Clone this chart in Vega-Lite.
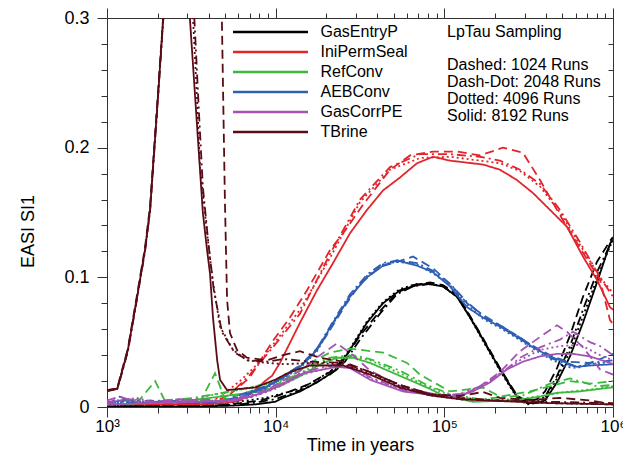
{
  "$schema": "https://vega.github.io/schema/vega-lite/v6.json",
  "width": 506,
  "height": 389,
  "autosize": {"type": "none"},
  "padding": {"left": 107, "top": 18, "right": 10, "bottom": 49},
  "config": {"font": "Liberation Sans", "view": {"stroke": null}},
  "data": {"values": [
    {"series":"GasEntryP","runs":"8192","t":1000,"v":0.0005},{"series":"GasEntryP","runs":"8192","t":3560,"v":0.0005},{"series":"GasEntryP","runs":"8192","t":5360,"v":0.001},{"series":"GasEntryP","runs":"8192","t":7540,"v":0.002},{"series":"GasEntryP","runs":"8192","t":9910,"v":0.004},{"series":"GasEntryP","runs":"8192","t":11050,"v":0.007},{"series":"GasEntryP","runs":"8192","t":13940,"v":0.012},{"series":"GasEntryP","runs":"8192","t":17580,"v":0.019},{"series":"GasEntryP","runs":"8192","t":23100,"v":0.029},{"series":"GasEntryP","runs":"8192","t":27580,"v":0.044},{"series":"GasEntryP","runs":"8192","t":34790,"v":0.065},{"series":"GasEntryP","runs":"8192","t":43290,"v":0.080},{"series":"GasEntryP","runs":"8192","t":54600,"v":0.090},{"series":"GasEntryP","runs":"8192","t":68860,"v":0.094},{"series":"GasEntryP","runs":"8192","t":78920,"v":0.095},{"series":"GasEntryP","runs":"8192","t":98200,"v":0.093},{"series":"GasEntryP","runs":"8192","t":118900,"v":0.085},{"series":"GasEntryP","runs":"8192","t":142000,"v":0.069},{"series":"GasEntryP","runs":"8192","t":169500,"v":0.052},{"series":"GasEntryP","runs":"8192","t":213800,"v":0.029},{"series":"GasEntryP","runs":"8192","t":269700,"v":0.008},{"series":"GasEntryP","runs":"8192","t":309200,"v":0.003},{"series":"GasEntryP","runs":"8192","t":354300,"v":0.003},{"series":"GasEntryP","runs":"8192","t":395300,"v":0.005},{"series":"GasEntryP","runs":"8192","t":465600,"v":0.019},{"series":"GasEntryP","runs":"8192","t":555900,"v":0.039},{"series":"GasEntryP","runs":"8192","t":663900,"v":0.065},{"series":"GasEntryP","runs":"8192","t":803800,"v":0.096},{"series":"GasEntryP","runs":"8192","t":959800,"v":0.126},{"series":"GasEntryP","runs":"8192","t":1000000,"v":0.130},
    {"series":"GasEntryP","runs":"1024","t":1000,"v":0.001},{"series":"GasEntryP","runs":"1024","t":4080,"v":0.001},{"series":"GasEntryP","runs":"1024","t":6140,"v":0.003},{"series":"GasEntryP","runs":"1024","t":8080,"v":0.005},{"series":"GasEntryP","runs":"1024","t":9910,"v":0.008},{"series":"GasEntryP","runs":"1024","t":12160,"v":0.012},{"series":"GasEntryP","runs":"1024","t":15340,"v":0.017},{"series":"GasEntryP","runs":"1024","t":21000,"v":0.027},{"series":"GasEntryP","runs":"1024","t":25770,"v":0.038},{"series":"GasEntryP","runs":"1024","t":31620,"v":0.055},{"series":"GasEntryP","runs":"1024","t":41550,"v":0.074},{"series":"GasEntryP","runs":"1024","t":52410,"v":0.088},{"series":"GasEntryP","runs":"1024","t":65200,"v":0.094},{"series":"GasEntryP","runs":"1024","t":82230,"v":0.096},{"series":"GasEntryP","runs":"1024","t":98200,"v":0.094},{"series":"GasEntryP","runs":"1024","t":118900,"v":0.087},{"series":"GasEntryP","runs":"1024","t":142000,"v":0.070},{"series":"GasEntryP","runs":"1024","t":169500,"v":0.053},{"series":"GasEntryP","runs":"1024","t":213800,"v":0.030},{"series":"GasEntryP","runs":"1024","t":269700,"v":0.009},{"series":"GasEntryP","runs":"1024","t":309200,"v":0.004},{"series":"GasEntryP","runs":"1024","t":354300,"v":0.006},{"series":"GasEntryP","runs":"1024","t":395300,"v":0.012},{"series":"GasEntryP","runs":"1024","t":465600,"v":0.030},{"series":"GasEntryP","runs":"1024","t":555900,"v":0.055},{"series":"GasEntryP","runs":"1024","t":663900,"v":0.085},{"series":"GasEntryP","runs":"1024","t":803800,"v":0.112},{"series":"GasEntryP","runs":"1024","t":959800,"v":0.128},{"series":"GasEntryP","runs":"1024","t":1000000,"v":0.131},
    {"series":"GasEntryP","runs":"4096","t":1000,"v":0.001},{"series":"GasEntryP","runs":"4096","t":3560,"v":0.001},{"series":"GasEntryP","runs":"4096","t":5000,"v":0.003},{"series":"GasEntryP","runs":"4096","t":6760,"v":0.005},{"series":"GasEntryP","runs":"4096","t":8650,"v":0.007},{"series":"GasEntryP","runs":"4096","t":9910,"v":0.009},{"series":"GasEntryP","runs":"4096","t":11360,"v":0.011},{"series":"GasEntryP","runs":"4096","t":13940,"v":0.014},{"series":"GasEntryP","runs":"4096","t":17580,"v":0.021},{"series":"GasEntryP","runs":"4096","t":23100,"v":0.031},{"series":"GasEntryP","runs":"4096","t":27580,"v":0.045},{"series":"GasEntryP","runs":"4096","t":34790,"v":0.066},{"series":"GasEntryP","runs":"4096","t":43290,"v":0.081},{"series":"GasEntryP","runs":"4096","t":54600,"v":0.091},{"series":"GasEntryP","runs":"4096","t":68860,"v":0.095},{"series":"GasEntryP","runs":"4096","t":82230,"v":0.095},{"series":"GasEntryP","runs":"4096","t":98200,"v":0.093},{"series":"GasEntryP","runs":"4096","t":118900,"v":0.085},{"series":"GasEntryP","runs":"4096","t":142000,"v":0.069},{"series":"GasEntryP","runs":"4096","t":169500,"v":0.051},{"series":"GasEntryP","runs":"4096","t":213800,"v":0.028},{"series":"GasEntryP","runs":"4096","t":269700,"v":0.007},{"series":"GasEntryP","runs":"4096","t":309200,"v":0.002},{"series":"GasEntryP","runs":"4096","t":354300,"v":0.003},{"series":"GasEntryP","runs":"4096","t":395300,"v":0.007},{"series":"GasEntryP","runs":"4096","t":465600,"v":0.022},{"series":"GasEntryP","runs":"4096","t":555900,"v":0.043},{"series":"GasEntryP","runs":"4096","t":663900,"v":0.070},{"series":"GasEntryP","runs":"4096","t":803800,"v":0.099},{"series":"GasEntryP","runs":"4096","t":959800,"v":0.124},{"series":"GasEntryP","runs":"4096","t":1000000,"v":0.128},
    {"series":"GasEntryP","runs":"2048","t":1000,"v":0.001},{"series":"GasEntryP","runs":"2048","t":4080,"v":0.001},{"series":"GasEntryP","runs":"2048","t":6140,"v":0.002},{"series":"GasEntryP","runs":"2048","t":8080,"v":0.004},{"series":"GasEntryP","runs":"2048","t":9910,"v":0.006},{"series":"GasEntryP","runs":"2048","t":12160,"v":0.010},{"series":"GasEntryP","runs":"2048","t":15340,"v":0.015},{"series":"GasEntryP","runs":"2048","t":21000,"v":0.025},{"series":"GasEntryP","runs":"2048","t":25770,"v":0.035},{"series":"GasEntryP","runs":"2048","t":31620,"v":0.052},{"series":"GasEntryP","runs":"2048","t":41550,"v":0.072},{"series":"GasEntryP","runs":"2048","t":52410,"v":0.087},{"series":"GasEntryP","runs":"2048","t":65200,"v":0.093},{"series":"GasEntryP","runs":"2048","t":82230,"v":0.095},{"series":"GasEntryP","runs":"2048","t":98200,"v":0.093},{"series":"GasEntryP","runs":"2048","t":118900,"v":0.086},{"series":"GasEntryP","runs":"2048","t":142000,"v":0.070},{"series":"GasEntryP","runs":"2048","t":169500,"v":0.052},{"series":"GasEntryP","runs":"2048","t":213800,"v":0.029},{"series":"GasEntryP","runs":"2048","t":269700,"v":0.008},{"series":"GasEntryP","runs":"2048","t":309200,"v":0.003},{"series":"GasEntryP","runs":"2048","t":354300,"v":0.004},{"series":"GasEntryP","runs":"2048","t":395300,"v":0.008},{"series":"GasEntryP","runs":"2048","t":465600,"v":0.024},{"series":"GasEntryP","runs":"2048","t":555900,"v":0.047},{"series":"GasEntryP","runs":"2048","t":663900,"v":0.075},{"series":"GasEntryP","runs":"2048","t":803800,"v":0.104},{"series":"GasEntryP","runs":"2048","t":959800,"v":0.125},{"series":"GasEntryP","runs":"2048","t":1000000,"v":0.129},

    {"series":"IniPermSeal","runs":"8192","t":1000,"v":0.002},{"series":"IniPermSeal","runs":"8192","t":3560,"v":0.002},{"series":"IniPermSeal","runs":"8192","t":5000,"v":0.003},{"series":"IniPermSeal","runs":"8192","t":6140,"v":0.005},{"series":"IniPermSeal","runs":"8192","t":7040,"v":0.010},{"series":"IniPermSeal","runs":"8192","t":7540,"v":0.013},{"series":"IniPermSeal","runs":"8192","t":8650,"v":0.020},{"series":"IniPermSeal","runs":"8192","t":9510,"v":0.024},{"series":"IniPermSeal","runs":"8192","t":10600,"v":0.034},{"series":"IniPermSeal","runs":"8192","t":13940,"v":0.065},{"series":"IniPermSeal","runs":"8192","t":17580,"v":0.090},{"series":"IniPermSeal","runs":"8192","t":21880,"v":0.111},{"series":"IniPermSeal","runs":"8192","t":27580,"v":0.134},{"series":"IniPermSeal","runs":"8192","t":34790,"v":0.152},{"series":"IniPermSeal","runs":"8192","t":43290,"v":0.167},{"series":"IniPermSeal","runs":"8192","t":54600,"v":0.177},{"series":"IniPermSeal","runs":"8192","t":68860,"v":0.188},{"series":"IniPermSeal","runs":"8192","t":85670,"v":0.193},{"series":"IniPermSeal","runs":"8192","t":108000,"v":0.190},{"series":"IniPermSeal","runs":"8192","t":169500,"v":0.187},{"series":"IniPermSeal","runs":"8192","t":213800,"v":0.183},{"series":"IniPermSeal","runs":"8192","t":269700,"v":0.175},{"series":"IniPermSeal","runs":"8192","t":335600,"v":0.165},{"series":"IniPermSeal","runs":"8192","t":423200,"v":0.152},{"series":"IniPermSeal","runs":"8192","t":533600,"v":0.139},{"series":"IniPermSeal","runs":"8192","t":663900,"v":0.116},{"series":"IniPermSeal","runs":"8192","t":803800,"v":0.098},{"series":"IniPermSeal","runs":"8192","t":959800,"v":0.077},{"series":"IniPermSeal","runs":"8192","t":1000000,"v":0.075},
    {"series":"IniPermSeal","runs":"1024","t":1000,"v":0.002},{"series":"IniPermSeal","runs":"1024","t":4680,"v":0.003},{"series":"IniPermSeal","runs":"1024","t":5740,"v":0.013},{"series":"IniPermSeal","runs":"1024","t":7040,"v":0.023},{"series":"IniPermSeal","runs":"1024","t":9510,"v":0.050},{"series":"IniPermSeal","runs":"1024","t":12160,"v":0.069},{"series":"IniPermSeal","runs":"1024","t":15340,"v":0.090},{"series":"IniPermSeal","runs":"1024","t":21000,"v":0.121},{"series":"IniPermSeal","runs":"1024","t":25770,"v":0.136},{"series":"IniPermSeal","runs":"1024","t":32950,"v":0.156},{"series":"IniPermSeal","runs":"1024","t":47620,"v":0.183},{"series":"IniPermSeal","runs":"1024","t":62580,"v":0.194},{"series":"IniPermSeal","runs":"1024","t":85670,"v":0.197},{"series":"IniPermSeal","runs":"1024","t":118900,"v":0.197},{"series":"IniPermSeal","runs":"1024","t":162700,"v":0.194},{"series":"IniPermSeal","runs":"1024","t":222700,"v":0.200},{"series":"IniPermSeal","runs":"1024","t":292700,"v":0.196},{"series":"IniPermSeal","runs":"1024","t":369200,"v":0.175},{"series":"IniPermSeal","runs":"1024","t":505200,"v":0.144},{"series":"IniPermSeal","runs":"1024","t":663900,"v":0.119},{"series":"IniPermSeal","runs":"1024","t":837400,"v":0.098},{"series":"IniPermSeal","runs":"1024","t":959800,"v":0.067},{"series":"IniPermSeal","runs":"1024","t":1000000,"v":0.064},
    {"series":"IniPermSeal","runs":"4096","t":1000,"v":0.002},{"series":"IniPermSeal","runs":"4096","t":3810,"v":0.002},{"series":"IniPermSeal","runs":"4096","t":4680,"v":0.008},{"series":"IniPermSeal","runs":"4096","t":6140,"v":0.020},{"series":"IniPermSeal","runs":"4096","t":8080,"v":0.035},{"series":"IniPermSeal","runs":"4096","t":11360,"v":0.060},{"series":"IniPermSeal","runs":"4096","t":13940,"v":0.075},{"series":"IniPermSeal","runs":"4096","t":21000,"v":0.115},{"series":"IniPermSeal","runs":"4096","t":31620,"v":0.158},{"series":"IniPermSeal","runs":"4096","t":47620,"v":0.183},{"series":"IniPermSeal","runs":"4096","t":71740,"v":0.192},{"series":"IniPermSeal","runs":"4096","t":108000,"v":0.193},{"series":"IniPermSeal","runs":"4096","t":162700,"v":0.190},{"series":"IniPermSeal","runs":"4096","t":213800,"v":0.188},{"series":"IniPermSeal","runs":"4096","t":281000,"v":0.182},{"series":"IniPermSeal","runs":"4096","t":369200,"v":0.170},{"series":"IniPermSeal","runs":"4096","t":485000,"v":0.150},{"series":"IniPermSeal","runs":"4096","t":637300,"v":0.125},{"series":"IniPermSeal","runs":"4096","t":837400,"v":0.100},{"series":"IniPermSeal","runs":"4096","t":1000000,"v":0.088},
    {"series":"IniPermSeal","runs":"2048","t":1000,"v":0.002},{"series":"IniPermSeal","runs":"2048","t":4080,"v":0.002},{"series":"IniPermSeal","runs":"2048","t":5360,"v":0.010},{"series":"IniPermSeal","runs":"2048","t":7040,"v":0.025},{"series":"IniPermSeal","runs":"2048","t":9910,"v":0.048},{"series":"IniPermSeal","runs":"2048","t":13940,"v":0.072},{"series":"IniPermSeal","runs":"2048","t":21000,"v":0.118},{"series":"IniPermSeal","runs":"2048","t":31620,"v":0.160},{"series":"IniPermSeal","runs":"2048","t":47620,"v":0.185},{"series":"IniPermSeal","runs":"2048","t":71740,"v":0.195},{"series":"IniPermSeal","runs":"2048","t":108000,"v":0.195},{"series":"IniPermSeal","runs":"2048","t":162700,"v":0.193},{"series":"IniPermSeal","runs":"2048","t":213800,"v":0.190},{"series":"IniPermSeal","runs":"2048","t":281000,"v":0.183},{"series":"IniPermSeal","runs":"2048","t":369200,"v":0.172},{"series":"IniPermSeal","runs":"2048","t":485000,"v":0.152},{"series":"IniPermSeal","runs":"2048","t":637300,"v":0.127},{"series":"IniPermSeal","runs":"2048","t":837400,"v":0.100},{"series":"IniPermSeal","runs":"2048","t":1000000,"v":0.085},

    {"series":"RefConv","runs":"8192","t":1000,"v":0.002},{"series":"RefConv","runs":"8192","t":1800,"v":0.003},{"series":"RefConv","runs":"8192","t":2700,"v":0.004},{"series":"RefConv","runs":"8192","t":3560,"v":0.006},{"series":"RefConv","runs":"8192","t":4680,"v":0.008},{"series":"RefConv","runs":"8192","t":6140,"v":0.010},{"series":"RefConv","runs":"8192","t":8080,"v":0.012},{"series":"RefConv","runs":"8192","t":10600,"v":0.016},{"series":"RefConv","runs":"8192","t":14520,"v":0.025},{"series":"RefConv","runs":"8192","t":18320,"v":0.033},{"series":"RefConv","runs":"8192","t":23100,"v":0.038},{"series":"RefConv","runs":"8192","t":28740,"v":0.038},{"series":"RefConv","runs":"8192","t":36260,"v":0.034},{"series":"RefConv","runs":"8192","t":56880,"v":0.023},{"series":"RefConv","runs":"8192","t":78920,"v":0.015},{"series":"RefConv","runs":"8192","t":98200,"v":0.009},{"series":"RefConv","runs":"8192","t":147900,"v":0.004},{"series":"RefConv","runs":"8192","t":235200,"v":0.005},{"series":"RefConv","runs":"8192","t":292700,"v":0.006},{"series":"RefConv","runs":"8192","t":369200,"v":0.008},{"series":"RefConv","runs":"8192","t":465600,"v":0.011},{"series":"RefConv","runs":"8192","t":637300,"v":0.012},{"series":"RefConv","runs":"8192","t":959800,"v":0.015},{"series":"RefConv","runs":"8192","t":1000000,"v":0.015},
    {"series":"RefConv","runs":"1024","t":1000,"v":0.003},{"series":"RefConv","runs":"1024","t":1570,"v":0.006},{"series":"RefConv","runs":"1024","t":1930,"v":0.020},{"series":"RefConv","runs":"1024","t":2200,"v":0.005},{"series":"RefConv","runs":"1024","t":3560,"v":0.004},{"series":"RefConv","runs":"1024","t":4370,"v":0.026},{"series":"RefConv","runs":"1024","t":5000,"v":0.006},{"series":"RefConv","runs":"1024","t":7040,"v":0.012},{"series":"RefConv","runs":"1024","t":9260,"v":0.015},{"series":"RefConv","runs":"1024","t":12160,"v":0.022},{"series":"RefConv","runs":"1024","t":15980,"v":0.034},{"series":"RefConv","runs":"1024","t":21000,"v":0.042},{"series":"RefConv","runs":"1024","t":27580,"v":0.045},{"series":"RefConv","runs":"1024","t":43290,"v":0.042},{"series":"RefConv","runs":"1024","t":60060,"v":0.034},{"series":"RefConv","runs":"1024","t":71740,"v":0.025},{"series":"RefConv","runs":"1024","t":108000,"v":0.012},{"series":"RefConv","runs":"1024","t":169500,"v":0.015},{"series":"RefConv","runs":"1024","t":213800,"v":0.008},{"series":"RefConv","runs":"1024","t":322100,"v":0.012},{"series":"RefConv","runs":"1024","t":423200,"v":0.016},{"series":"RefConv","runs":"1024","t":555900,"v":0.020},{"series":"RefConv","runs":"1024","t":730500,"v":0.018},{"series":"RefConv","runs":"1024","t":1000000,"v":0.020},
    {"series":"RefConv","runs":"4096","t":1000,"v":0.002},{"series":"RefConv","runs":"4096","t":2000,"v":0.004},{"series":"RefConv","runs":"4096","t":3100,"v":0.005},{"series":"RefConv","runs":"4096","t":4080,"v":0.009},{"series":"RefConv","runs":"4096","t":5510,"v":0.012},{"series":"RefConv","runs":"4096","t":7040,"v":0.015},{"series":"RefConv","runs":"4096","t":9260,"v":0.018},{"series":"RefConv","runs":"4096","t":12160,"v":0.022},{"series":"RefConv","runs":"4096","t":15980,"v":0.030},{"series":"RefConv","runs":"4096","t":21000,"v":0.036},{"series":"RefConv","runs":"4096","t":28740,"v":0.039},{"series":"RefConv","runs":"4096","t":36260,"v":0.036},{"series":"RefConv","runs":"4096","t":54600,"v":0.026},{"series":"RefConv","runs":"4096","t":78920,"v":0.016},{"series":"RefConv","runs":"4096","t":108000,"v":0.009},{"series":"RefConv","runs":"4096","t":162700,"v":0.005},{"series":"RefConv","runs":"4096","t":269700,"v":0.006},{"series":"RefConv","runs":"4096","t":395300,"v":0.009},{"series":"RefConv","runs":"4096","t":555900,"v":0.012},{"series":"RefConv","runs":"4096","t":803800,"v":0.014},{"series":"RefConv","runs":"4096","t":1000000,"v":0.016},
    {"series":"RefConv","runs":"2048","t":1000,"v":0.003},{"series":"RefConv","runs":"2048","t":2150,"v":0.005},{"series":"RefConv","runs":"2048","t":3240,"v":0.007},{"series":"RefConv","runs":"2048","t":4370,"v":0.010},{"series":"RefConv","runs":"2048","t":5900,"v":0.013},{"series":"RefConv","runs":"2048","t":7540,"v":0.016},{"series":"RefConv","runs":"2048","t":9910,"v":0.020},{"series":"RefConv","runs":"2048","t":12160,"v":0.024},{"series":"RefConv","runs":"2048","t":15980,"v":0.032},{"series":"RefConv","runs":"2048","t":21000,"v":0.038},{"series":"RefConv","runs":"2048","t":28740,"v":0.040},{"series":"RefConv","runs":"2048","t":36260,"v":0.037},{"series":"RefConv","runs":"2048","t":54600,"v":0.028},{"series":"RefConv","runs":"2048","t":78920,"v":0.017},{"series":"RefConv","runs":"2048","t":108000,"v":0.010},{"series":"RefConv","runs":"2048","t":162700,"v":0.006},{"series":"RefConv","runs":"2048","t":292700,"v":0.009},{"series":"RefConv","runs":"2048","t":423200,"v":0.018},{"series":"RefConv","runs":"2048","t":555900,"v":0.022},{"series":"RefConv","runs":"2048","t":803800,"v":0.016},{"series":"RefConv","runs":"2048","t":1000000,"v":0.017},

    {"series":"AEBConv","runs":"8192","t":1000,"v":0.003},{"series":"AEBConv","runs":"8192","t":1330,"v":0.006},{"series":"AEBConv","runs":"8192","t":1570,"v":0.003},{"series":"AEBConv","runs":"8192","t":2000,"v":0.004},{"series":"AEBConv","runs":"8192","t":3100,"v":0.003},{"series":"AEBConv","runs":"8192","t":4370,"v":0.004},{"series":"AEBConv","runs":"8192","t":5900,"v":0.006},{"series":"AEBConv","runs":"8192","t":7040,"v":0.011},{"series":"AEBConv","runs":"8192","t":8650,"v":0.015},{"series":"AEBConv","runs":"8192","t":11050,"v":0.023},{"series":"AEBConv","runs":"8192","t":13940,"v":0.031},{"series":"AEBConv","runs":"8192","t":17580,"v":0.044},{"series":"AEBConv","runs":"8192","t":21880,"v":0.065},{"series":"AEBConv","runs":"8192","t":27580,"v":0.085},{"series":"AEBConv","runs":"8192","t":34790,"v":0.100},{"series":"AEBConv","runs":"8192","t":43290,"v":0.109},{"series":"AEBConv","runs":"8192","t":52410,"v":0.113},{"series":"AEBConv","runs":"8192","t":68860,"v":0.109},{"series":"AEBConv","runs":"8192","t":85670,"v":0.104},{"series":"AEBConv","runs":"8192","t":108000,"v":0.093},{"series":"AEBConv","runs":"8192","t":136300,"v":0.077},{"series":"AEBConv","runs":"8192","t":169500,"v":0.069},{"series":"AEBConv","runs":"8192","t":213800,"v":0.062},{"series":"AEBConv","runs":"8192","t":269700,"v":0.054},{"series":"AEBConv","runs":"8192","t":335600,"v":0.046},{"series":"AEBConv","runs":"8192","t":423200,"v":0.039},{"series":"AEBConv","runs":"8192","t":533600,"v":0.034},{"series":"AEBConv","runs":"8192","t":611600,"v":0.031},{"series":"AEBConv","runs":"8192","t":730500,"v":0.032},{"series":"AEBConv","runs":"8192","t":1000000,"v":0.033},
    {"series":"AEBConv","runs":"1024","t":1000,"v":0.002},{"series":"AEBConv","runs":"1024","t":1190,"v":0.008},{"series":"AEBConv","runs":"1024","t":1500,"v":0.003},{"series":"AEBConv","runs":"1024","t":2360,"v":0.005},{"series":"AEBConv","runs":"1024","t":3420,"v":0.003},{"series":"AEBConv","runs":"1024","t":4800,"v":0.005},{"series":"AEBConv","runs":"1024","t":6310,"v":0.008},{"series":"AEBConv","runs":"1024","t":7540,"v":0.012},{"series":"AEBConv","runs":"1024","t":9910,"v":0.019},{"series":"AEBConv","runs":"1024","t":12160,"v":0.026},{"series":"AEBConv","runs":"1024","t":15980,"v":0.038},{"series":"AEBConv","runs":"1024","t":20000,"v":0.055},{"series":"AEBConv","runs":"1024","t":25770,"v":0.078},{"series":"AEBConv","runs":"1024","t":31620,"v":0.095},{"series":"AEBConv","runs":"1024","t":41550,"v":0.108},{"series":"AEBConv","runs":"1024","t":52410,"v":0.112},{"series":"AEBConv","runs":"1024","t":65200,"v":0.116},{"series":"AEBConv","runs":"1024","t":85670,"v":0.107},{"series":"AEBConv","runs":"1024","t":108000,"v":0.095},{"series":"AEBConv","runs":"1024","t":136300,"v":0.080},{"series":"AEBConv","runs":"1024","t":169500,"v":0.071},{"series":"AEBConv","runs":"1024","t":213800,"v":0.063},{"series":"AEBConv","runs":"1024","t":269700,"v":0.055},{"series":"AEBConv","runs":"1024","t":335600,"v":0.047},{"series":"AEBConv","runs":"1024","t":423200,"v":0.040},{"series":"AEBConv","runs":"1024","t":533600,"v":0.035},{"series":"AEBConv","runs":"1024","t":730500,"v":0.034},{"series":"AEBConv","runs":"1024","t":959800,"v":0.040},{"series":"AEBConv","runs":"1024","t":1000000,"v":0.041},
    {"series":"AEBConv","runs":"4096","t":1000,"v":0.003},{"series":"AEBConv","runs":"4096","t":1500,"v":0.005},{"series":"AEBConv","runs":"4096","t":2000,"v":0.003},{"series":"AEBConv","runs":"4096","t":2860,"v":0.006},{"series":"AEBConv","runs":"4096","t":3920,"v":0.003},{"series":"AEBConv","runs":"4096","t":5220,"v":0.005},{"series":"AEBConv","runs":"4096","t":7040,"v":0.010},{"series":"AEBConv","runs":"4096","t":8650,"v":0.014},{"series":"AEBConv","runs":"4096","t":11050,"v":0.022},{"series":"AEBConv","runs":"4096","t":13940,"v":0.030},{"series":"AEBConv","runs":"4096","t":17580,"v":0.043},{"series":"AEBConv","runs":"4096","t":21880,"v":0.064},{"series":"AEBConv","runs":"4096","t":27580,"v":0.086},{"series":"AEBConv","runs":"4096","t":34790,"v":0.101},{"series":"AEBConv","runs":"4096","t":43290,"v":0.110},{"series":"AEBConv","runs":"4096","t":52410,"v":0.112},{"series":"AEBConv","runs":"4096","t":68860,"v":0.110},{"series":"AEBConv","runs":"4096","t":85670,"v":0.103},{"series":"AEBConv","runs":"4096","t":108000,"v":0.094},{"series":"AEBConv","runs":"4096","t":136300,"v":0.079},{"series":"AEBConv","runs":"4096","t":169500,"v":0.068},{"series":"AEBConv","runs":"4096","t":213800,"v":0.061},{"series":"AEBConv","runs":"4096","t":269700,"v":0.053},{"series":"AEBConv","runs":"4096","t":335600,"v":0.045},{"series":"AEBConv","runs":"4096","t":423200,"v":0.037},{"series":"AEBConv","runs":"4096","t":533600,"v":0.031},{"series":"AEBConv","runs":"4096","t":611600,"v":0.030},{"series":"AEBConv","runs":"4096","t":730500,"v":0.033},{"series":"AEBConv","runs":"4096","t":1000000,"v":0.035},
    {"series":"AEBConv","runs":"2048","t":1000,"v":0.004},{"series":"AEBConv","runs":"2048","t":1330,"v":0.003},{"series":"AEBConv","runs":"2048","t":1800,"v":0.005},{"series":"AEBConv","runs":"2048","t":2600,"v":0.003},{"series":"AEBConv","runs":"2048","t":3560,"v":0.004},{"series":"AEBConv","runs":"2048","t":5000,"v":0.005},{"series":"AEBConv","runs":"2048","t":7040,"v":0.012},{"series":"AEBConv","runs":"2048","t":8650,"v":0.016},{"series":"AEBConv","runs":"2048","t":11050,"v":0.024},{"series":"AEBConv","runs":"2048","t":13940,"v":0.032},{"series":"AEBConv","runs":"2048","t":17580,"v":0.045},{"series":"AEBConv","runs":"2048","t":21880,"v":0.066},{"series":"AEBConv","runs":"2048","t":27580,"v":0.087},{"series":"AEBConv","runs":"2048","t":34790,"v":0.102},{"series":"AEBConv","runs":"2048","t":43290,"v":0.111},{"series":"AEBConv","runs":"2048","t":52410,"v":0.113},{"series":"AEBConv","runs":"2048","t":68860,"v":0.111},{"series":"AEBConv","runs":"2048","t":85670,"v":0.105},{"series":"AEBConv","runs":"2048","t":108000,"v":0.095},{"series":"AEBConv","runs":"2048","t":136300,"v":0.081},{"series":"AEBConv","runs":"2048","t":169500,"v":0.070},{"series":"AEBConv","runs":"2048","t":213800,"v":0.063},{"series":"AEBConv","runs":"2048","t":269700,"v":0.055},{"series":"AEBConv","runs":"2048","t":335600,"v":0.047},{"series":"AEBConv","runs":"2048","t":423200,"v":0.038},{"series":"AEBConv","runs":"2048","t":533600,"v":0.033},{"series":"AEBConv","runs":"2048","t":611600,"v":0.031},{"series":"AEBConv","runs":"2048","t":730500,"v":0.034},{"series":"AEBConv","runs":"2048","t":1000000,"v":0.036},

    {"series":"GasCorrPE","runs":"8192","t":1000,"v":0.002},{"series":"GasCorrPE","runs":"8192","t":1800,"v":0.003},{"series":"GasCorrPE","runs":"8192","t":3560,"v":0.004},{"series":"GasCorrPE","runs":"8192","t":5360,"v":0.005},{"series":"GasCorrPE","runs":"8192","t":7040,"v":0.008},{"series":"GasCorrPE","runs":"8192","t":9260,"v":0.013},{"series":"GasCorrPE","runs":"8192","t":14520,"v":0.026},{"series":"GasCorrPE","runs":"8192","t":23100,"v":0.031},{"series":"GasCorrPE","runs":"8192","t":27580,"v":0.030},{"series":"GasCorrPE","runs":"8192","t":36260,"v":0.021},{"series":"GasCorrPE","runs":"8192","t":56880,"v":0.012},{"series":"GasCorrPE","runs":"8192","t":94250,"v":0.0085},{"series":"GasCorrPE","runs":"8192","t":118900,"v":0.008},{"series":"GasCorrPE","runs":"8192","t":147900,"v":0.012},{"series":"GasCorrPE","runs":"8192","t":186500,"v":0.019},{"series":"GasCorrPE","runs":"8192","t":235200,"v":0.029},{"series":"GasCorrPE","runs":"8192","t":292700,"v":0.035},{"series":"GasCorrPE","runs":"8192","t":369200,"v":0.039},{"series":"GasCorrPE","runs":"8192","t":465600,"v":0.041},{"series":"GasCorrPE","runs":"8192","t":579200,"v":0.041},{"series":"GasCorrPE","runs":"8192","t":730500,"v":0.039},{"series":"GasCorrPE","runs":"8192","t":959800,"v":0.034},{"series":"GasCorrPE","runs":"8192","t":1000000,"v":0.033},
    {"series":"GasCorrPE","runs":"1024","t":1000,"v":0.005},{"series":"GasCorrPE","runs":"1024","t":1190,"v":0.008},{"series":"GasCorrPE","runs":"1024","t":1570,"v":0.003},{"series":"GasCorrPE","runs":"1024","t":2710,"v":0.006},{"series":"GasCorrPE","runs":"1024","t":5360,"v":0.004},{"series":"GasCorrPE","runs":"1024","t":8080,"v":0.010},{"series":"GasCorrPE","runs":"1024","t":13940,"v":0.028},{"series":"GasCorrPE","runs":"1024","t":18320,"v":0.040},{"series":"GasCorrPE","runs":"1024","t":23100,"v":0.049},{"series":"GasCorrPE","runs":"1024","t":28740,"v":0.040},{"series":"GasCorrPE","runs":"1024","t":36260,"v":0.028},{"series":"GasCorrPE","runs":"1024","t":56880,"v":0.015},{"series":"GasCorrPE","runs":"1024","t":94250,"v":0.009},{"series":"GasCorrPE","runs":"1024","t":132600,"v":0.010},{"series":"GasCorrPE","runs":"1024","t":162700,"v":0.016},{"series":"GasCorrPE","runs":"1024","t":213800,"v":0.027},{"series":"GasCorrPE","runs":"1024","t":281000,"v":0.043},{"series":"GasCorrPE","runs":"1024","t":369200,"v":0.054},{"series":"GasCorrPE","runs":"1024","t":465600,"v":0.063},{"series":"GasCorrPE","runs":"1024","t":533600,"v":0.058},{"series":"GasCorrPE","runs":"1024","t":663900,"v":0.046},{"series":"GasCorrPE","runs":"1024","t":837400,"v":0.029},{"series":"GasCorrPE","runs":"1024","t":1000000,"v":0.025},
    {"series":"GasCorrPE","runs":"4096","t":1000,"v":0.004},{"series":"GasCorrPE","runs":"4096","t":1500,"v":0.007},{"series":"GasCorrPE","runs":"4096","t":2000,"v":0.003},{"series":"GasCorrPE","runs":"4096","t":3100,"v":0.005},{"series":"GasCorrPE","runs":"4096","t":5000,"v":0.004},{"series":"GasCorrPE","runs":"4096","t":7040,"v":0.007},{"series":"GasCorrPE","runs":"4096","t":9910,"v":0.014},{"series":"GasCorrPE","runs":"4096","t":14520,"v":0.025},{"series":"GasCorrPE","runs":"4096","t":23100,"v":0.032},{"series":"GasCorrPE","runs":"4096","t":28740,"v":0.030},{"series":"GasCorrPE","runs":"4096","t":36260,"v":0.022},{"series":"GasCorrPE","runs":"4096","t":56880,"v":0.013},{"series":"GasCorrPE","runs":"4096","t":94250,"v":0.009},{"series":"GasCorrPE","runs":"4096","t":123900,"v":0.009},{"series":"GasCorrPE","runs":"4096","t":162700,"v":0.015},{"series":"GasCorrPE","runs":"4096","t":213800,"v":0.026},{"series":"GasCorrPE","runs":"4096","t":281000,"v":0.036},{"series":"GasCorrPE","runs":"4096","t":369200,"v":0.044},{"series":"GasCorrPE","runs":"4096","t":485000,"v":0.047},{"series":"GasCorrPE","runs":"4096","t":637300,"v":0.048},{"series":"GasCorrPE","runs":"4096","t":837400,"v":0.040},{"series":"GasCorrPE","runs":"4096","t":1000000,"v":0.036},
    {"series":"GasCorrPE","runs":"2048","t":1000,"v":0.003},{"series":"GasCorrPE","runs":"2048","t":1330,"v":0.006},{"series":"GasCorrPE","runs":"2048","t":1930,"v":0.004},{"series":"GasCorrPE","runs":"2048","t":3420,"v":0.006},{"series":"GasCorrPE","runs":"2048","t":5000,"v":0.005},{"series":"GasCorrPE","runs":"2048","t":7040,"v":0.009},{"series":"GasCorrPE","runs":"2048","t":9910,"v":0.015},{"series":"GasCorrPE","runs":"2048","t":14520,"v":0.027},{"series":"GasCorrPE","runs":"2048","t":23100,"v":0.033},{"series":"GasCorrPE","runs":"2048","t":28740,"v":0.031},{"series":"GasCorrPE","runs":"2048","t":36260,"v":0.023},{"series":"GasCorrPE","runs":"2048","t":56880,"v":0.013},{"series":"GasCorrPE","runs":"2048","t":94250,"v":0.009},{"series":"GasCorrPE","runs":"2048","t":123900,"v":0.010},{"series":"GasCorrPE","runs":"2048","t":162700,"v":0.016},{"series":"GasCorrPE","runs":"2048","t":213800,"v":0.025},{"series":"GasCorrPE","runs":"2048","t":281000,"v":0.038},{"series":"GasCorrPE","runs":"2048","t":369200,"v":0.046},{"series":"GasCorrPE","runs":"2048","t":485000,"v":0.052},{"series":"GasCorrPE","runs":"2048","t":579200,"v":0.058},{"series":"GasCorrPE","runs":"2048","t":730500,"v":0.050},{"series":"GasCorrPE","runs":"2048","t":837400,"v":0.047},{"series":"GasCorrPE","runs":"2048","t":1000000,"v":0.040},

    {"series":"TBrine","runs":"8192","t":1000,"v":0.013},{"series":"TBrine","runs":"8192","t":1150,"v":0.014},{"series":"TBrine","runs":"8192","t":1190,"v":0.021},{"series":"TBrine","runs":"8192","t":1330,"v":0.044},{"series":"TBrine","runs":"8192","t":1500,"v":0.083},{"series":"TBrine","runs":"8192","t":1680,"v":0.121},{"series":"TBrine","runs":"8192","t":1800,"v":0.152},{"series":"TBrine","runs":"8192","t":2000,"v":0.237},{"series":"TBrine","runs":"8192","t":2150,"v":0.298},{"series":"TBrine","runs":"8192","t":2360,"v":0.36},{"series":"TBrine","runs":"8192","t":2600,"v":0.40},{"series":"TBrine","runs":"8192","t":2860,"v":0.36},{"series":"TBrine","runs":"8192","t":3100,"v":0.30},{"series":"TBrine","runs":"8192","t":3700,"v":0.15},{"series":"TBrine","runs":"8192","t":3920,"v":0.121},{"series":"TBrine","runs":"8192","t":4080,"v":0.103},{"series":"TBrine","runs":"8192","t":4250,"v":0.069},{"series":"TBrine","runs":"8192","t":4500,"v":0.036},{"series":"TBrine","runs":"8192","t":4680,"v":0.021},{"series":"TBrine","runs":"8192","t":5150,"v":0.013},{"series":"TBrine","runs":"8192","t":6140,"v":0.014},{"series":"TBrine","runs":"8192","t":7540,"v":0.015},{"series":"TBrine","runs":"8192","t":9910,"v":0.021},{"series":"TBrine","runs":"8192","t":12160,"v":0.027},{"series":"TBrine","runs":"8192","t":15980,"v":0.032},{"series":"TBrine","runs":"8192","t":25070,"v":0.032},{"series":"TBrine","runs":"8192","t":36260,"v":0.025},{"series":"TBrine","runs":"8192","t":54600,"v":0.015},{"series":"TBrine","runs":"8192","t":82230,"v":0.009},{"series":"TBrine","runs":"8192","t":123900,"v":0.006},{"series":"TBrine","runs":"8192","t":213800,"v":0.0046},{"series":"TBrine","runs":"8192","t":423200,"v":0.003},{"series":"TBrine","runs":"8192","t":1000000,"v":0.002},
    {"series":"TBrine","runs":"1024","t":1000,"v":0.013},{"series":"TBrine","runs":"1024","t":1150,"v":0.014},{"series":"TBrine","runs":"1024","t":1190,"v":0.022},{"series":"TBrine","runs":"1024","t":1330,"v":0.045},{"series":"TBrine","runs":"1024","t":1500,"v":0.085},{"series":"TBrine","runs":"1024","t":1680,"v":0.123},{"series":"TBrine","runs":"1024","t":1800,"v":0.155},{"series":"TBrine","runs":"1024","t":2000,"v":0.24},{"series":"TBrine","runs":"1024","t":2150,"v":0.30},{"series":"TBrine","runs":"1024","t":2600,"v":0.42},{"series":"TBrine","runs":"1024","t":3100,"v":0.45},{"series":"TBrine","runs":"1024","t":3810,"v":0.42},{"series":"TBrine","runs":"1024","t":4370,"v":0.36},{"series":"TBrine","runs":"1024","t":4800,"v":0.298},{"series":"TBrine","runs":"1024","t":5000,"v":0.16},{"series":"TBrine","runs":"1024","t":5150,"v":0.083},{"series":"TBrine","runs":"1024","t":5360,"v":0.057},{"series":"TBrine","runs":"1024","t":5900,"v":0.044},{"series":"TBrine","runs":"1024","t":6760,"v":0.038},{"series":"TBrine","runs":"1024","t":8890,"v":0.036},{"series":"TBrine","runs":"1024","t":11050,"v":0.040},{"series":"TBrine","runs":"1024","t":13940,"v":0.043},{"series":"TBrine","runs":"1024","t":18320,"v":0.038},{"series":"TBrine","runs":"1024","t":25070,"v":0.035},{"series":"TBrine","runs":"1024","t":36260,"v":0.027},{"series":"TBrine","runs":"1024","t":54600,"v":0.017},{"series":"TBrine","runs":"1024","t":82230,"v":0.010},{"series":"TBrine","runs":"1024","t":123900,"v":0.0085},{"series":"TBrine","runs":"1024","t":169500,"v":0.0116},{"series":"TBrine","runs":"1024","t":213800,"v":0.007},{"series":"TBrine","runs":"1024","t":322100,"v":0.0054},{"series":"TBrine","runs":"1024","t":485000,"v":0.007},{"series":"TBrine","runs":"1024","t":730500,"v":0.005},{"series":"TBrine","runs":"1024","t":1000000,"v":0.002},
    {"series":"TBrine","runs":"4096","t":1000,"v":0.013},{"series":"TBrine","runs":"4096","t":1150,"v":0.014},{"series":"TBrine","runs":"4096","t":1190,"v":0.021},{"series":"TBrine","runs":"4096","t":1330,"v":0.044},{"series":"TBrine","runs":"4096","t":1500,"v":0.083},{"series":"TBrine","runs":"4096","t":1680,"v":0.121},{"series":"TBrine","runs":"4096","t":1800,"v":0.152},{"series":"TBrine","runs":"4096","t":2000,"v":0.237},{"series":"TBrine","runs":"4096","t":2150,"v":0.298},{"series":"TBrine","runs":"4096","t":2600,"v":0.40},{"series":"TBrine","runs":"4096","t":3100,"v":0.33},{"series":"TBrine","runs":"4096","t":3240,"v":0.298},{"series":"TBrine","runs":"4096","t":3420,"v":0.237},{"series":"TBrine","runs":"4096","t":3560,"v":0.185},{"series":"TBrine","runs":"4096","t":3920,"v":0.134},{"series":"TBrine","runs":"4096","t":4250,"v":0.096},{"series":"TBrine","runs":"4096","t":4680,"v":0.062},{"series":"TBrine","runs":"4096","t":5590,"v":0.044},{"series":"TBrine","runs":"4096","t":6760,"v":0.036},{"series":"TBrine","runs":"4096","t":8890,"v":0.034},{"series":"TBrine","runs":"4096","t":11360,"v":0.033},{"series":"TBrine","runs":"4096","t":15980,"v":0.034},{"series":"TBrine","runs":"4096","t":25070,"v":0.033},{"series":"TBrine","runs":"4096","t":36260,"v":0.026},{"series":"TBrine","runs":"4096","t":54600,"v":0.016},{"series":"TBrine","runs":"4096","t":82230,"v":0.009},{"series":"TBrine","runs":"4096","t":123900,"v":0.006},{"series":"TBrine","runs":"4096","t":213800,"v":0.005},{"series":"TBrine","runs":"4096","t":423200,"v":0.003},{"series":"TBrine","runs":"4096","t":1000000,"v":0.002},
    {"series":"TBrine","runs":"2048","t":1000,"v":0.012},{"series":"TBrine","runs":"2048","t":1150,"v":0.014},{"series":"TBrine","runs":"2048","t":1190,"v":0.020},{"series":"TBrine","runs":"2048","t":1330,"v":0.043},{"series":"TBrine","runs":"2048","t":1500,"v":0.082},{"series":"TBrine","runs":"2048","t":1680,"v":0.120},{"series":"TBrine","runs":"2048","t":1800,"v":0.151},{"series":"TBrine","runs":"2048","t":2000,"v":0.236},{"series":"TBrine","runs":"2048","t":2150,"v":0.297},{"series":"TBrine","runs":"2048","t":2600,"v":0.40},{"series":"TBrine","runs":"2048","t":3100,"v":0.34},{"series":"TBrine","runs":"2048","t":3300,"v":0.298},{"series":"TBrine","runs":"2048","t":3500,"v":0.23},{"series":"TBrine","runs":"2048","t":3700,"v":0.17},{"series":"TBrine","runs":"2048","t":4000,"v":0.125},{"series":"TBrine","runs":"2048","t":4300,"v":0.09},{"series":"TBrine","runs":"2048","t":4800,"v":0.058},{"series":"TBrine","runs":"2048","t":5700,"v":0.042},{"series":"TBrine","runs":"2048","t":6900,"v":0.036},{"series":"TBrine","runs":"2048","t":9000,"v":0.035},{"series":"TBrine","runs":"2048","t":11000,"v":0.037},{"series":"TBrine","runs":"2048","t":13500,"v":0.036},{"series":"TBrine","runs":"2048","t":16000,"v":0.035},{"series":"TBrine","runs":"2048","t":25070,"v":0.034},{"series":"TBrine","runs":"2048","t":36260,"v":0.027},{"series":"TBrine","runs":"2048","t":54600,"v":0.017},{"series":"TBrine","runs":"2048","t":82230,"v":0.010},{"series":"TBrine","runs":"2048","t":123900,"v":0.007},{"series":"TBrine","runs":"2048","t":213800,"v":0.005},{"series":"TBrine","runs":"2048","t":423200,"v":0.004},{"series":"TBrine","runs":"2048","t":1000000,"v":0.003}
  ]},
  "resolve": {"axis": {"x": "independent", "y": "independent"}},
  "layer": [
    {
      "mark": {"type": "line", "clip": true, "strokeCap": "butt"},
      "encoding": {
        "x": {"field": "t", "type": "quantitative",
          "scale": {"type": "log", "domain": [1000, 1000000], "nice": false},
          "axis": {
            "orient": "bottom",
            "values": [1000,2000,3000,4000,5000,6000,7000,8000,9000,10000,20000,30000,40000,50000,60000,70000,80000,90000,100000,200000,300000,400000,500000,600000,700000,800000,900000,1000000],
            "labelExpr": "datum.value == 1000 ? '10³' : datum.value == 10000 ? '10⁴' : datum.value == 100000 ? '10⁵' : datum.value == 1000000 ? '10⁶' : ''",
            "labelFontSize": 17, "labelColor": "#000", "labelPadding": 1, "labelFlush": false, "labelOverlap": false,
            "tickSize": {"condition": {"test": "datum.value == 1000 || datum.value == 10000 || datum.value == 100000 || datum.value == 1000000", "value": 10}, "value": 6},
            "tickColor": "#333", "domainColor": "#333", "grid": false,
            "title": "Time in years", "titleFontSize": 18, "titleFontWeight": "normal", "titleColor": "#000",
            "titleX": 253, "titleY": 43, "titleBaseline": "alphabetic", "titleAlign": "center", "titleAnchor": null
          }},
        "y": {"field": "v", "type": "quantitative",
          "scale": {"domain": [0, 0.3], "nice": false, "zero": false},
          "axis": {
            "orient": "left",
            "values": [0,0.02,0.04,0.06,0.08,0.1,0.12,0.14,0.16,0.18,0.2,0.22,0.24,0.26,0.28,0.3],
            "labelExpr": "datum.value < 0.001 ? '0' : (abs(datum.value * 10 - round(datum.value * 10)) < 0.001 ? format(datum.value, '.1f') : '')",
            "labelFontSize": 18, "labelColor": "#000", "labelPadding": 8, "labelFlush": false, "labelOverlap": false,
            "tickSize": {"condition": {"test": "abs(datum.value * 10 - round(datum.value * 10)) < 0.001", "value": 10}, "value": 6},
            "tickColor": "#333", "domainColor": "#333", "grid": false,
            "title": "EASI SI1", "titleFontSize": 18, "titleFontWeight": "normal", "titleColor": "#000",
            "titleX": -74, "titleY": 213, "titleAngle": 270, "titleBaseline": "alphabetic", "titleAlign": "center", "titleAnchor": null
          }},
        "color": {"field": "series", "type": "nominal",
          "scale": {"domain": ["GasEntryP","IniPermSeal","RefConv","AEBConv","GasCorrPE","TBrine"],
                    "range": ["#000000","#e3242b","#3cb83c","#2f5fb3","#a452b4","#5a0c16"]},
          "legend": {"orient": "none", "legendX": 126, "legendY": 5, "title": null,
            "symbolType": "M-5,0H5", "symbolSize": 225, "symbolStrokeWidth": 2.5, "symbolOffset": 28.5,
            "labelFontSize": 16, "labelColor": "#000", "labelOffset": 41, "rowPadding": 3, "padding": 0}},
        "strokeDash": {"field": "runs", "type": "nominal",
          "scale": {"domain": ["1024","2048","4096","8192"], "range": [[9,5],[9,4,2,4],[2,3],[1,0]]},
          "legend": {"orient": "none", "legendX": 340, "legendY": 6, "title": "LpTau Sampling",
            "titleFontSize": 16, "titleFontWeight": "normal", "titleColor": "#000", "titlePadding": 17,
            "labelExpr": "(datum.label == '1024' ? 'Dashed' : datum.label == '2048' ? 'Dash-Dot' : datum.label == '4096' ? 'Dotted' : 'Solid') + ': ' + datum.label + ' Runs'",
            "labelFontSize": 16, "labelColor": "#000", "labelOffset": -16, "rowPadding": 1,
            "symbolOpacity": 0, "symbolSize": 1, "symbolStrokeWidth": 0, "padding": 0}},
        "strokeWidth": {"field": "runs", "type": "nominal",
          "scale": {"domain": ["1024","2048","4096","8192"], "range": [1.8,1.8,1.9,2.2]},
          "legend": null}
      }
    },
    {
      "mark": {"type": "point", "opacity": 0},
      "encoding": {
        "x": {"field": "t", "type": "quantitative",
          "axis": {"orient": "top", "labels": false, "title": null,
            "values": [1000,2000,3000,4000,5000,6000,7000,8000,9000,10000,20000,30000,40000,50000,60000,70000,80000,90000,100000,200000,300000,400000,500000,600000,700000,800000,900000,1000000],
            "tickSize": {"condition": {"test": "datum.value == 1000 || datum.value == 10000 || datum.value == 100000 || datum.value == 1000000", "value": 10}, "value": 5},
            "tickColor": "#333", "domainColor": "#333", "grid": false}},
        "y": {"field": "v", "type": "quantitative",
          "axis": {"orient": "right", "labels": false, "title": null,
            "values": [0,0.02,0.04,0.06,0.08,0.1,0.12,0.14,0.16,0.18,0.2,0.22,0.24,0.26,0.28,0.3],
            "tickSize": -5, "tickColor": "#333", "domainColor": "#333", "grid": false}}
      }
    }
  ]
}
